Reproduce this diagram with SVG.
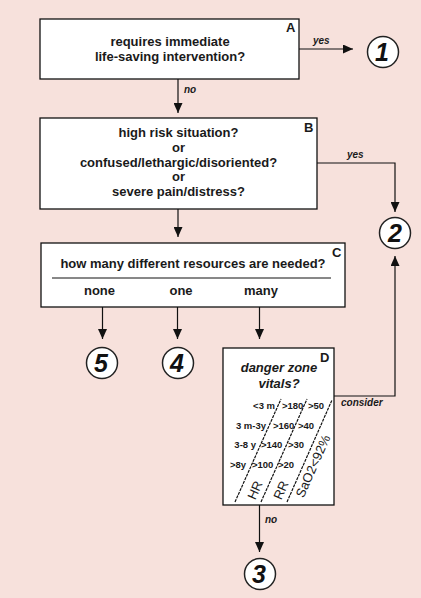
<svg xmlns="http://www.w3.org/2000/svg" width="421" height="598" viewBox="0 0 421 598">
<style>
.bg{fill:#f7e1dc}
.box{fill:#fff;stroke:#111;stroke-width:1.3}
.circ{fill:#fff;stroke:#222;stroke-width:1.5}
.q{font-family:"Liberation Sans",Arial,sans-serif;font-weight:bold;font-size:13px;fill:#1a1a1a;text-anchor:middle}
.lab{font-family:"Liberation Sans",Arial,sans-serif;font-weight:bold;font-size:13px;fill:#1a1a1a}
.edge{font-family:"Liberation Sans",Arial,sans-serif;font-weight:bold;font-style:italic;font-size:10px;fill:#1a1a1a}
.num{font-family:"Liberation Sans",Arial,sans-serif;font-weight:bold;font-style:italic;font-size:25px;fill:#111;text-anchor:middle}
.row{font-family:"Liberation Sans",Arial,sans-serif;font-weight:bold;font-size:9.5px;fill:#1a1a1a}
.rot{font-family:"Liberation Sans",Arial,sans-serif;font-size:13px;fill:#1a1a1a;text-anchor:middle}
.line{fill:none;stroke:#111;stroke-width:1.2}
.dash{fill:none;stroke:#111;stroke-width:1.2;stroke-dasharray:3 1}
</style>
<defs>
<marker id="ah" markerUnits="userSpaceOnUse" markerWidth="10" markerHeight="9" refX="10" refY="4.5" orient="auto">
<path d="M0,0 L10,4.5 L0,9 z" fill="#111"/>
</marker>
</defs>
<rect class="bg" x="0" y="0" width="421" height="598"/>

<g id="connectors">
<line class="line" x1="299" y1="49" x2="353" y2="49" marker-end="url(#ah)"/>
<text class="edge" x="313" y="44">yes</text>
<line class="line" x1="178" y1="79" x2="178" y2="113" marker-end="url(#ah)"/>
<text class="edge" x="184" y="93">no</text>
<polyline class="line" points="317,163 395,163 395,212" marker-end="url(#ah)"/>
<text class="edge" x="347" y="158">yes</text>
<line class="line" x1="178" y1="209" x2="178" y2="237" marker-end="url(#ah)"/>
<line class="line" x1="102.5" y1="307" x2="102.5" y2="339" marker-end="url(#ah)"/>
<line class="line" x1="177.5" y1="307" x2="177.5" y2="339" marker-end="url(#ah)"/>
<line class="line" x1="259.5" y1="307" x2="259.5" y2="339" marker-end="url(#ah)"/>
<polyline class="line" points="334,396 395,396 395,256" marker-end="url(#ah)"/>
<text class="edge" x="341" y="406">consider</text>
<line class="line" x1="259.5" y1="505" x2="259.5" y2="552" marker-end="url(#ah)"/>
<text class="edge" x="265" y="523">no</text>
</g>

<g id="nodeA">
<rect class="box" x="40" y="19" width="259" height="60"/>
<text class="lab" x="286" y="32">A</text>
<text class="q" x="170" y="46">requires immediate</text>
<text class="q" x="170" y="61">life-saving intervention?</text>
</g>

<g id="node1">
<circle class="circ" cx="383" cy="52" r="15.5"/>
<text class="num" x="382" y="61">1</text>
</g>

<g id="nodeB">
<rect class="box" x="40" y="118" width="277" height="91"/>
<text class="lab" x="304" y="132">B</text>
<text class="q" x="178.5" y="137">high risk situation?</text>
<text class="q" x="178.5" y="152">or</text>
<text class="q" x="178.5" y="167">confused/lethargic/disoriented?</text>
<text class="q" x="178.5" y="181">or</text>
<text class="q" x="178.5" y="196">severe pain/distress?</text>
</g>

<g id="node2">
<circle class="circ" cx="395" cy="233" r="15.5"/>
<text class="num" x="395" y="242">2</text>
</g>

<g id="nodeC">
<rect class="box" x="41" y="243" width="304" height="64"/>
<text class="lab" x="332" y="257">C</text>
<text class="q" x="193" y="268">how many different resources are needed?</text>
<line x1="52" y1="278" x2="331" y2="278" stroke="#111" stroke-width="1"/>
<text class="q" x="99.5" y="295">none</text>
<text class="q" x="181" y="295">one</text>
<text class="q" x="261" y="295">many</text>
</g>

<g id="node5">
<circle class="circ" cx="102" cy="363" r="15.5"/>
<text class="num" x="101" y="372">5</text>
</g>

<g id="node4">
<circle class="circ" cx="178" cy="363" r="15.5"/>
<text class="num" x="177" y="372">4</text>
</g>

<g id="nodeD">
<rect class="box" x="223" y="348" width="111" height="157"/>
<text class="lab" x="320" y="362">D</text>
<text class="q" x="279" y="372" font-style="italic">danger zone</text>
<text class="q" x="279" y="388" font-style="italic">vitals?</text>
<line class="dash" x1="235" y1="502" x2="281" y2="399"/>
<line class="dash" x1="261" y1="502" x2="307" y2="399"/>
<line class="dash" x1="287" y1="502" x2="332" y2="400"/>
<text class="row" x="275" y="409" text-anchor="end">&lt;3 m</text>
<text class="row" x="282" y="409">&gt;180</text>
<text class="row" x="308" y="409">&gt;50</text>
<text class="row" x="266" y="429" text-anchor="end">3 m-3y</text>
<text class="row" x="273" y="429">&gt;160</text>
<text class="row" x="298" y="429">&gt;40</text>
<text class="row" x="256" y="448" text-anchor="end">3-8 y</text>
<text class="row" x="261" y="448">&gt;140</text>
<text class="row" x="288" y="448">&gt;30</text>
<text class="row" x="246" y="468" text-anchor="end">&gt;8y</text>
<text class="row" x="252" y="468">&gt;100</text>
<text class="row" x="278" y="468">&gt;20</text>
<text class="rot" transform="translate(259,492) rotate(-66)">HR</text>
<text class="rot" transform="translate(285,492) rotate(-66)">RR</text>
<text class="rot" transform="translate(317,468) rotate(-66)">SaO2&lt;92%</text>
</g>

<g id="node3">
<circle class="circ" cx="260" cy="574" r="15.5"/>
<text class="num" x="259" y="583">3</text>
</g>
</svg>
